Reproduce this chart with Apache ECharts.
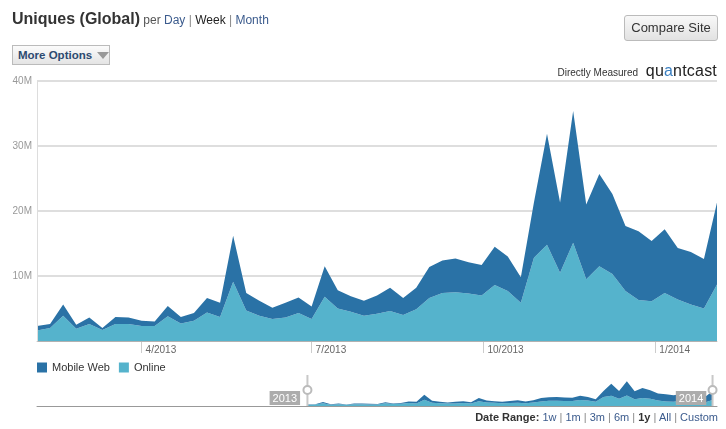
<!DOCTYPE html>
<html><head><meta charset="utf-8">
<script src="https://cdn.jsdelivr.net/npm/echarts@6/dist/echarts.min.js"></script>
<style>
html,body{margin:0;padding:0;background:#fff;width:726px;height:429px;overflow:hidden;font-family:"Liberation Sans",Arial,sans-serif;}
#chart{position:absolute;left:0;top:0;width:726px;height:429px;}
.abs{position:absolute;white-space:nowrap;}
.lnk{color:#3b5b8d;}
.sep{color:#888;}
#title{left:12px;top:10px;font-size:12px;color:#555;}
#title b{font-size:16px;color:#333;}
#moreopt{left:12px;top:45px;width:91px;height:18px;border:1px solid #bbb;background:linear-gradient(#fbfbfb,#e4e4e4);font-weight:bold;font-size:11.5px;color:#2c4a70;line-height:18px;padding-left:5px;box-sizing:content-box;}
#moreopt .tri{position:absolute;left:84px;top:6px;width:0;height:0;border-left:6px solid transparent;border-right:6px solid transparent;border-top:7px solid #999;}
#compare{left:624px;top:15px;width:92px;height:24px;border:1px solid #bbb;border-radius:3px;background:linear-gradient(#f8f8f8,#e2e2e2);font-size:13px;color:#333;line-height:24px;text-align:center;}
#measured{right:9px;top:62px;font-size:10px;color:#333;}
#measured .logo{font-size:16px;color:#222;letter-spacing:0.2px;margin-left:5px;}
#measured .logo i{font-style:normal;color:#3a7fc1;}
#range{right:8px;top:411px;font-size:11px;color:#555;}
#range b{color:#333;}
</style></head><body>
<div id="chart"></div>
<div class="abs" id="title"><b>Uniques (Global)</b> per <span class="lnk">Day</span> <span class="sep">|</span> <span style="color:#222">Week</span> <span class="sep">|</span> <span class="lnk">Month</span></div>
<div class="abs" id="moreopt">More Options<span class="tri"></span></div>
<div class="abs" id="compare">Compare Site</div>
<div class="abs" id="measured">Directly Measured <span class="logo">qu<i>a</i>ntcast</span></div>
<div class="abs" id="range"><b>Date Range:</b> <span class="lnk">1w</span> <span class="sep">|</span> <span class="lnk">1m</span> <span class="sep">|</span> <span class="lnk">3m</span> <span class="sep">|</span> <span class="lnk">6m</span> <span class="sep">|</span> <b>1y</b> <span class="sep">|</span> <span class="lnk">All</span> <span class="sep">|</span> <span class="lnk">Custom</span></div>
<script>
// weekly categories
const weeks = ['2013-02-04','2013-02-11','2013-02-18','2013-02-25','2013-03-04','2013-03-11','2013-03-18','2013-03-25',
 '2013-04-01','2013-04-08','2013-04-15','2013-04-22','2013-04-29','2013-05-06','2013-05-13','2013-05-20','2013-05-27',
 '2013-06-03','2013-06-10','2013-06-17','2013-06-24','2013-07-01','2013-07-08','2013-07-15','2013-07-22','2013-07-29',
 '2013-08-05','2013-08-12','2013-08-19','2013-08-26','2013-09-02','2013-09-09','2013-09-16','2013-09-23','2013-09-30',
 '2013-10-07','2013-10-14','2013-10-21','2013-10-28','2013-11-04','2013-11-11','2013-11-18','2013-11-25','2013-12-02',
 '2013-12-09','2013-12-16','2013-12-23','2013-12-30','2014-01-06','2014-01-13','2014-01-20','2014-01-27','2014-02-03'];
// values in millions
const online = [1.6,2.0,3.9,1.9,2.6,1.7,2.6,2.6,2.3,2.3,3.8,2.7,3.1,4.4,3.7,9.1,4.7,3.9,3.4,3.6,4.3,3.4,6.8,5.0,4.5,3.9,
 4.2,4.6,4.0,4.9,6.6,7.4,7.5,7.3,7.0,8.6,7.7,5.9,12.8,14.8,10.5,15.1,9.5,11.5,10.3,7.7,6.3,6.1,7.4,6.4,5.6,5.0,8.7];
const mobileWeb = [0.7,0.6,1.7,0.6,1.0,0.3,1.1,1.0,0.8,0.7,1.6,1.0,1.2,2.2,2.2,7.1,2.7,2.3,1.7,2.3,2.4,1.9,4.7,2.8,2.4,2.3,
 2.8,3.6,2.6,3.3,4.8,5.0,5.2,4.8,4.7,5.9,5.3,3.9,8.5,17.1,10.8,20.3,11.5,14.2,12.3,10.0,10.6,9.3,9.8,7.9,8.1,7.6,12.6];
const seriesNames = ['Mobile Web','Online'];
const xTickDates = ['2013-04-01','2013-07-01','2013-10-01','2014-01-01'];
const xTickLabels = ['4/2013','7/2013','10/2013','1/2014'];
const yTicks = [10,20,30,40];
const navYearDates = ['2013-01-01','2014-01-01'];
const navYearLabels = ['2013','2014'];
const navRange = ['2012-06-06','2014-02-07'];

const C_MW = '#2a72a6', C_ON = '#55b3cc';
function ts(s){const p=s.split('-').map(Number);return new Date(p[0],p[1]-1,p[2]).getTime();}
function labelFor(dates, labels){const t=dates.map(ts);return v=>{let b=0,bd=Infinity;t.forEach((x,i)=>{const d=Math.abs(x-v);if(d<bd){bd=d;b=i;}});return labels[b];};}
const onlineData = weeks.map((d,i)=>[ts(d), online[i]]);
const mobileData = weeks.map((d,i)=>[ts(d), mobileWeb[i]]);

function areaSeries(name, data, color, stack, idx){
  return {name, type:'line', stack, data, xAxisIndex:idx, yAxisIndex:idx, symbol:'none', showSymbol:false,
    lineStyle:{width:0}, itemStyle:{color}, areaStyle:{color, opacity:1}, emphasis:{disabled:true}, animation:false};
}
const chart = echarts.init(document.getElementById('chart'), null, {renderer:'canvas'});
const FONT = '"Liberation Sans", Arial, sans-serif';
const mainMin = ts(weeks[0]), mainMax = ts(weeks[weeks.length-1]);
chart.setOption({
  animation:false,
  textStyle:{fontFamily:FONT},
  legend:{data:seriesNames, left:37, top:362, padding:0, icon:'rect', itemWidth:10, itemHeight:10, itemGap:9,
    textStyle:{fontSize:11, color:'#333', fontFamily:FONT}},
  grid:[{left:37, top:81, width:680, height:260},{left:37, top:378, width:680, height:28}],
  xAxis:[
    // data axes
    {type:'time', gridIndex:0, min:mainMin, max:mainMax, position:'bottom',
     axisLine:{show:true, lineStyle:{color:'#ccc'}}, axisTick:{show:false}, axisLabel:{show:false}, splitLine:{show:false}},
    {type:'time', gridIndex:1, min:ts(navRange[0]), max:ts(navRange[1]), position:'bottom',
     axisLine:{show:true, lineStyle:{color:'#999'}}, axisTick:{show:false}, axisLabel:{show:false}, splitLine:{show:false}},
    // tick/label axes sharing the same ranges
    {type:'value', gridIndex:0, min:mainMin, max:mainMax, position:'bottom', offset:0,
     axisLine:{show:false},
     axisTick:{show:true, customValues:xTickDates.map(ts), length:12, lineStyle:{color:'#ccc'}},
     axisLabel:{customValues:xTickDates.map(ts), formatter:labelFor(xTickDates,xTickLabels), align:'left',
       padding:[0,0,0,4], margin:4, color:'#666', fontSize:10, fontFamily:FONT},
     splitLine:{show:false}},
    {type:'value', gridIndex:1, min:ts(navRange[0]), max:ts(navRange[1]), position:'bottom', offset:0, z:5,
     axisLine:{show:false}, axisTick:{show:false},
     axisLabel:{customValues:navYearDates.map(ts), formatter:labelFor(navYearDates,navYearLabels), inside:true,
       align:'left', margin:1, color:'#fff', backgroundColor:'#acacac', padding:[2,3,1,3], fontSize:11, fontFamily:FONT},
     splitLine:{show:false}}
  ],
  yAxis:[
    {type:'value', gridIndex:0, min:0, max:40, interval:10, z:3,
     axisLine:{show:true, lineStyle:{color:'#ddd'}}, axisTick:{show:false},
     axisLabel:{customValues:yTicks, formatter:v=>v+'M', color:'#999', fontSize:10, margin:5, fontFamily:FONT},
     splitLine:{show:true, lineStyle:{color:'rgba(0,0,0,0.13)', width:2}}},
    {type:'value', gridIndex:1, min:0, max:40, show:false}
  ],
  series:[
    areaSeries('Online', onlineData, C_ON, 'main', 0),
    areaSeries('Mobile Web', mobileData, C_MW, 'main', 0),
    areaSeries('Online', onlineData, C_ON, 'nav', 1),
    areaSeries('Mobile Web', mobileData, C_MW, 'nav', 1)
  ]
});
// navigator handles at the ends of the selected range
const hx = [mainMin, mainMax].map(t=>chart.convertToPixel({xAxisIndex:1}, t));
const handles = [];
hx.forEach(x=>{
  handles.push({type:'line', shape:{x1:x, y1:375, x2:x, y2:406}, style:{stroke:'#c8c8c8', lineWidth:2}, z:20});
  handles.push({type:'circle', shape:{cx:x, cy:390, r:4}, style:{fill:'#fff', stroke:'#bbb', lineWidth:2}, z:21});
});
chart.setOption({graphic:handles});
</script>
</body></html>
